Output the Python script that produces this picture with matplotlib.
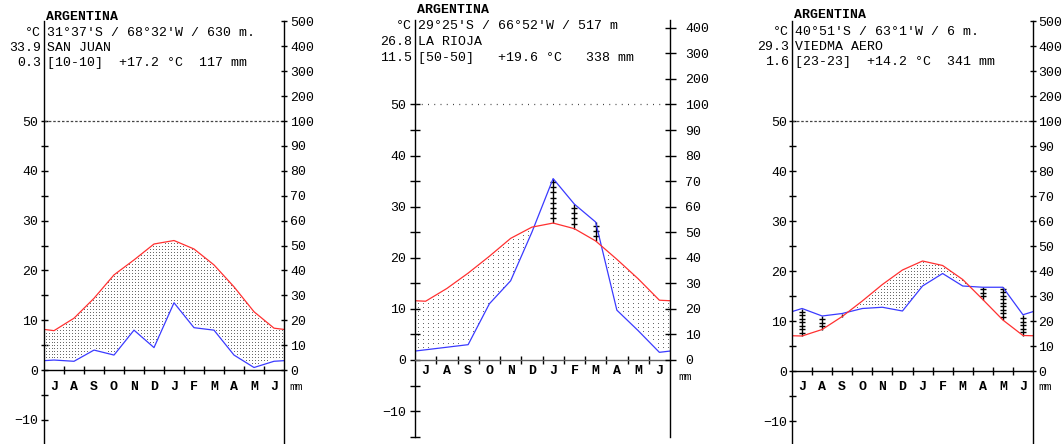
import numpy as np
import matplotlib.pyplot as plt

plt.rcParams['font.family'] = ['Liberation Mono', 'DejaVu Sans Mono']

W, H = 1064, 444

months = ['J', 'A', 'S', 'O', 'N', 'D', 'J', 'F', 'M', 'A', 'M', 'J']

# monthly means, July .. June (southern hemisphere)
sj_temp = [7.9, 10.4, 14.4, 19.1, 22.1, 25.3, 26.0, 24.3, 21.1, 16.7, 11.7, 8.4]
sj_prec = [4, 3.5, 8, 6, 16, 9, 27, 17, 16, 6, 1, 3.5]
lr_temp = [11.5, 14.0, 17.0, 20.3, 23.8, 26.0, 26.8, 25.7, 23.3, 19.7, 15.9, 11.7]
lr_prec = [4, 5, 6, 22, 31, 50, 71, 61, 54, 19.5, 11.5, 3]
vi_temp = [7.0, 8.3, 10.9, 14.0, 17.3, 20.2, 22.0, 21.1, 18.3, 14.3, 10.2, 7.1]
vi_prec = [25, 22, 23, 25, 25.5, 24, 34, 39, 34, 33.5, 33.5, 22.5]

sj_head = ["ARGENTINA", "31°37'S / 68°32'W / 630 m.", "SAN JUAN", "[10-10]  +17.2 °C  117 mm"]
lr_head = ["ARGENTINA", "29°25'S / 66°52'W / 517 m", "LA RIOJA", "[50-50]   +19.6 °C   338 mm"]
vi_head = ["ARGENTINA", "40°51'S / 63°1'W / 6 m.", "VIEDMA AERO", "[23-23]  +14.2 °C  341 mm"]
sj_side = ["°C", "33.9", "0.3"]
lr_side = ["°C", "26.8", "11.5"]
vi_side = ["°C", "29.3", "1.6"]

mm_ticks_5 = [0, 10, 20, 30, 40, 50, 60, 70, 80, 90, 100, 200, 300, 400, 500]
mm_ticks_4 = [0, 10, 20, 30, 40, 50, 60, 70, 80, 90, 100, 200, 300, 400]


def mm_to_y(mm):
    # 2 mm per degree up to 100 mm, compressed above
    mm = np.asarray(mm, float)
    return np.where(mm <= 100, mm / 2.0, 50 + (mm - 100) / 20.0)


def px(v):
    return v * 0.72  # pixels -> points at 100 dpi


# left, right, y of zero, px per degree, ymax, header positions, styles
panels = [
    dict(temp=sj_temp, prec=sj_prec, head=sj_head, side=sj_side, mm=mm_ticks_5,
         left=44, right=284, y0=370, ppu=4.98, ymax=70,
         hx=46, hy=[17, 33, 48, 63], tick=7, rtick=6, lpad=2, rpad=3,
         mon_dy=16.7, mm_xy=(289, 387), dot=(3, 3), hum=3.5,
         zero='k', ref=(0, (2, 1.5))),
    dict(temp=lr_temp, prec=lr_prec, head=lr_head, side=lr_side, mm=mm_ticks_4,
         left=415, right=670, y0=360, ppu=5.11, ymax=66.5,
         hx=417, hy=[10, 26, 42, 58], tick=10, rtick=11, lpad=4, rpad=10,
         mon_dy=10.7, mm_xy=(678, 377), dot=(5, 4), hum=5.1,
         zero='#606060', ref=(0, (0.8, 4.2))),
    dict(temp=vi_temp, prec=vi_prec, head=vi_head, side=vi_side, mm=mm_ticks_5,
         left=792, right=1033, y0=371, ppu=5.0, ymax=70,
         hx=794, hy=[15, 32, 47, 62], tick=7, rtick=6, lpad=1, rpad=2,
         mon_dy=15.7, mm_xy=(1038, 387), dot=(3, 3), hum=3.5,
         zero='k', ref=(0, (2, 1.5))),
]

fig = plt.figure(figsize=(W / 100, H / 100), dpi=100)
fig.patch.set_facecolor('white')

for p in panels:
    ybot = p['y0'] + 15 * p['ppu']
    ytop = p['y0'] - p['ymax'] * p['ppu']
    ax = fig.add_axes([p['left'] / W, (H - ybot) / H,
                       (p['right'] - p['left']) / W, (ybot - ytop) / H])
    ax.set_xlim(0, 12)
    ax.set_ylim(-15, p['ymax'])
    ax.patch.set_alpha(0)

    t = np.array(p['temp'], float)
    r = mm_to_y(p['prec'])
    # curves run flat to the frame at the mean of first and last month
    xs = np.concatenate([[0], np.arange(12) + 0.5, [12]])
    tt = np.concatenate([[(t[0] + t[-1]) / 2], t, [(t[0] + t[-1]) / 2]])
    rr = np.concatenate([[(r[0] + r[-1]) / 2], r, [(r[0] + r[-1]) / 2]])

    # arid period: dotted
    dx = p['dot'][0] * 12 / (p['right'] - p['left'])
    dy = p['dot'][1] / p['ppu']
    gx = np.arange(dx / 2, 12, dx)
    gy = np.arange(dy, 60, dy)
    X, Y = np.meshgrid(gx, gy)
    top = np.interp(X, xs, tt)
    bot = np.interp(X, xs, rr)
    m = (Y < top - 0.3) & (Y > bot + 0.3)
    ax.plot(X[m], Y[m], ',', color='#6a6a6a')

    # humid period: hatched verticals at month centres
    for i in range(12):
        if r[i] > t[i]:
            xc = i + 0.5
            ax.vlines(xc, t[i], r[i], color='k', lw=1)
            ys = np.arange(t[i] + p['hum'] / p['ppu'], r[i], p['hum'] / p['ppu'])
            ax.plot([xc] * len(ys), ys, ls='none', marker='_', ms=px(6),
                    mew=1, color='k')

    ax.plot(xs, rr, color='#3a3aff', lw=0.9)
    ax.plot(xs, tt, color='#ff3030', lw=0.9)

    ax.axhline(50, color='#444444', lw=0.9, ls=p['ref'])

    # spines
    for s in ['top', 'right']:
        ax.spines[s].set_visible(False)
    ax.spines['left'].set_linewidth(1)
    ax.spines['bottom'].set_position(('data', 0))
    ax.spines['bottom'].set_color(p['zero'])
    ax.spines['bottom'].set_linewidth(1)

    ax.set_xticks(range(1, 12))
    ax.set_xticklabels([])
    ax.tick_params(axis='x', direction='inout', length=px(8), width=1, color='k')

    ax.set_yticks(range(-10, 51, 10))
    ax.set_yticks(range(-15, 50, 10), minor=True)
    ax.tick_params(axis='y', which='both', direction='inout',
                   length=px(p['tick']), width=1, labelsize=9.5, pad=px(p['lpad']))

    for i, mo in enumerate(months):
        ax.text(i + 0.5, -p['mon_dy'] / p['ppu'], mo, ha='center', va='center',
                fontsize=9.5, fontweight='bold')

    ax2 = ax.twinx()
    ax2.set_ylim(-15, p['ymax'])
    for s in ['top', 'left', 'bottom']:
        ax2.spines[s].set_visible(False)
    ax2.spines['right'].set_linewidth(1)
    ax2.set_yticks(mm_to_y(p['mm']))
    ax2.set_yticklabels([str(v) for v in p['mm']])
    ax2.tick_params(axis='y', direction='inout', length=px(p['rtick']), width=1,
                    labelsize=9.5, pad=px(p['rpad']))

    # header
    fig.text(p['hx'] / W, 1 - p['hy'][0] / H, p['head'][0], ha='left', va='center',
             fontsize=9.5, fontweight='bold')
    for k in range(3):
        fig.text((p['left'] + 3) / W, 1 - p['hy'][k + 1] / H, p['head'][k + 1],
                 ha='left', va='center', fontsize=9.5)
        fig.text((p['left'] - 3) / W, 1 - p['hy'][k + 1] / H, p['side'][k],
                 ha='right', va='center', fontsize=9.5)

    fig.text(p['mm_xy'][0] / W, 1 - p['mm_xy'][1] / H, 'mm', ha='left',
             va='center', fontsize=8)

fig.savefig('out.png', dpi=100, facecolor='white')
